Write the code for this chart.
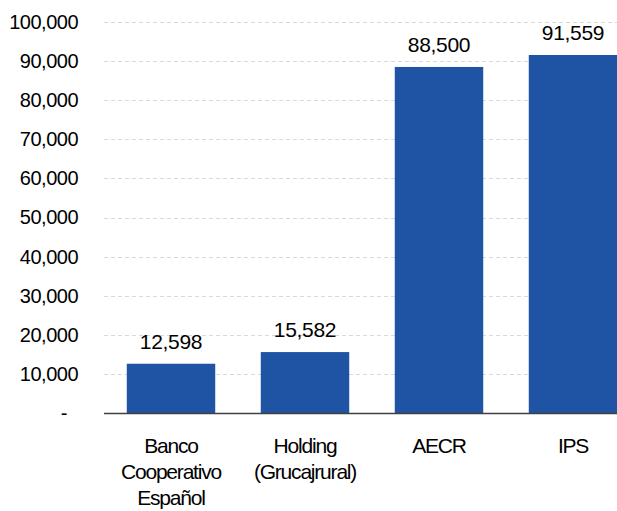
<!DOCTYPE html>
<html>
<head>
<meta charset="utf-8">
<script src="https://cdn.jsdelivr.net/npm/d3@7"></script>
<style>
  body { margin: 0; background: #fff; }
  svg { display: block; font-family: "Liberation Sans", Arial, sans-serif; }
</style>
</head>
<body>
<div id="chart"></div>
<script>
const categories = [
  ["Banco", "Cooperativo", "Español"],
  ["Holding", "(Grucajrural)"],
  ["AECR"],
  ["IPS"],
];
const values = [12598, 15582, 88500, 91559];
const yTicks = [0, 10000, 20000, 30000, 40000, 50000, 60000, 70000, 80000, 90000, 100000];

const width = 617;
const height = 511;
const margin = { top: 22, left: 104, bottom: 98 };

const svg = d3
  .select("#chart")
  .append("svg")
  .attr("width", width)
  .attr("height", height);

const x = d3
  .scaleBand()
  .domain(d3.range(values.length))
  .range([margin.left, 640])
  .paddingInner(0.34)
  .paddingOuter(0.17);

const y = d3
  .scaleLinear()
  .domain([0, 100000])
  .range([height - margin.bottom, margin.top]);

const fmt = d3.format(",");

// gridlines
svg
  .append("g")
  .selectAll("line")
  .data(yTicks.slice(1))
  .enter()
  .append("line")
  .attr("x1", margin.left)
  .attr("x2", width)
  .attr("y1", (d) => Math.round(y(d)) + 0.5)
  .attr("y2", (d) => Math.round(y(d)) + 0.5)
  .attr("stroke", "#d9d9d9")
  .attr("stroke-dasharray", "4,3");

// y axis labels
const yAxis = d3
  .axisLeft(y)
  .tickValues(yTicks)
  .tickSize(0)
  .tickPadding(26)
  .tickFormat((d) => (d === 0 ? "-" : fmt(d)));

svg
  .append("g")
  .attr("transform", `translate(${margin.left}, 0)`)
  .call(yAxis)
  .call((g) => g.select(".domain").remove())
  .selectAll("text")
  .attr("font-size", 20)
  .attr("letter-spacing", "-0.5px")
  .attr("fill", "#000")
  .attr("font-family", "Liberation Sans, Arial, sans-serif")
  .attr("dx", (d) => (d === 0 ? -11 : 0));

// bars
svg
  .selectAll("rect.bar")
  .data(values)
  .enter()
  .append("rect")
  .attr("class", "bar")
  .attr("x", (d, i) => x(i))
  .attr("y", (d) => y(d))
  .attr("width", x.bandwidth())
  .attr("height", (d) => y(0) - y(d))
  .attr("fill", "#1f53a4");

// value labels
svg
  .selectAll("text.val")
  .data(values)
  .enter()
  .append("text")
  .attr("class", "val")
  .attr("x", (d, i) => x(i) + x.bandwidth() / 2)
  .attr("y", (d) => y(d) - 15)
  .attr("text-anchor", "middle")
  .attr("font-size", 21)
  .attr("letter-spacing", "-0.3px")
  .text((d) => fmt(d));

// baseline
svg
  .append("line")
  .attr("x1", margin.left)
  .attr("x2", width)
  .attr("y1", y(0) + 0.5)
  .attr("y2", y(0) + 0.5)
  .attr("stroke", "#404040")
  .attr("stroke-width", 1.5);

// category labels
const cat = svg
  .selectAll("text.cat")
  .data(categories)
  .enter()
  .append("text")
  .attr("class", "cat")
  .attr("text-anchor", "middle")
  .attr("font-size", 21)
  .attr("letter-spacing", "-1.2px");

cat
  .selectAll("tspan")
  .data((d, i) => d.map((t) => ({ t, i })))
  .enter()
  .append("tspan")
  .attr("x", (d) => x(d.i) + x.bandwidth() / 2)
  .attr("y", (d, j) => y(0) + 40 + j * 26)
  .text((d) => d.t);
</script>
</body>
</html>
